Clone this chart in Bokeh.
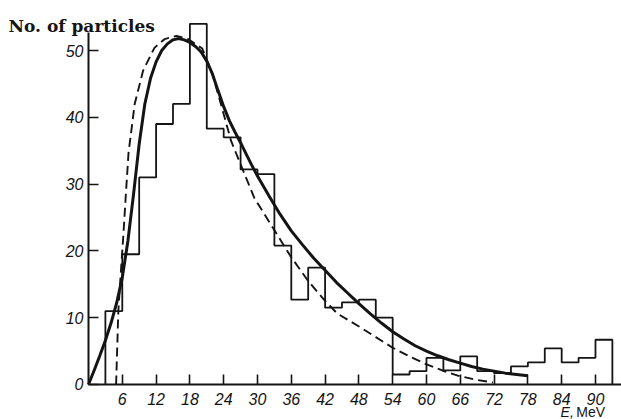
from bokeh.plotting import figure
from bokeh.models import FixedTicker, Label, Range1d
from bokeh.embed import file_html
from bokeh.resources import INLINE

# ---- data ----
bin_edges = [3, 6, 9, 12, 15, 18, 21, 24, 27, 30, 33, 36, 39, 42, 45, 48, 51, 54,
             57, 60, 63, 66, 69, 72, 75, 78, 81, 84, 87, 90, 93]
counts = [11, 19.5, 31, 39, 42, 54, 38.3, 37, 32.2, 31.5, 20.8, 12.7, 17.5, 11.5,
          12.3, 12.7, 10, 1.5, 2, 4, 2.1, 4.2, 2, 1.7, 2.7, 3.3, 5.4, 3.3, 4, 6.7]

solid_E = [0, 1, 2, 3, 4, 5, 6, 7, 8, 9, 10, 11, 12, 13, 14, 15, 16, 17, 18, 19, 20,
           21, 22, 23, 24, 25, 26, 27, 28, 29, 30, 32, 34, 36, 38, 40, 42, 44, 46, 48,
           50, 52, 54, 56, 58, 60, 62, 64, 66, 68, 70, 72, 74, 76, 78]
solid_N = [0, 2.1, 4.3, 6.6, 9.2, 12.2, 16, 21.5, 28.5, 36, 42, 45.8, 48.3, 50, 51,
           51.6, 51.8, 51.6, 51.2, 50.6, 49.8, 48.4, 46.5, 44, 41.6, 39.5, 37.8, 36.2,
           34.5, 32.8, 31.2, 28.3, 25.5, 23, 20.9, 18.9, 17.1, 15.3, 13.7, 12.1, 10.6,
           9.2, 7.9, 6.8, 5.8, 5, 4.3, 3.7, 3.2, 2.7, 2.3, 2, 1.7, 1.5, 1.3]

dashed_E = [4.9, 5.3, 5.8, 6.2, 6.6, 7.1, 8.2, 9.7, 11.7, 13.5, 15.6, 17.5, 20.2, 22,
            23.5, 25.3, 26.5, 29.4, 32.7, 35.8, 38.9, 41.8, 44.2, 47.8, 51, 54, 57,
            59.8, 62.8, 65.7, 68.8, 71.8]
dashed_N = [0, 11, 17.5, 22.5, 28, 34.6, 42, 47, 50.4, 51.7, 52.2, 51.8, 50.3, 46.5,
            42, 36.5, 34, 28, 23.5, 19.3, 15.6, 12.7, 10.6, 8.8, 7.1, 5.5, 4.2, 3.1,
            2.1, 1.3, 0.7, 0.3]

x_ticks = [6, 12, 18, 24, 30, 36, 42, 48, 54, 60, 66, 72, 78, 84, 90]
y_ticks = [0, 10, 20, 30, 40, 50]

INK = "#141414"

p = figure(width=621, height=419, output_backend="svg", toolbar_location=None,
           x_range=Range1d(-15.62, 94.62), y_range=Range1d(-5.24, 57.49),
           min_border_left=0, min_border_right=0, min_border_top=0,
           min_border_bottom=0)
p.outline_line_color = None
p.xgrid.visible = False
p.ygrid.visible = False
p.background_fill_color = "white"
p.border_fill_color = "white"

# histogram outline (step path built from the bins)
hx, hy = [bin_edges[0]], [0]
for i, c in enumerate(counts):
    hx += [bin_edges[i], bin_edges[i + 1]]
    hy += [c, c]
hx.append(bin_edges[-1])
hy.append(0)
p.line(hx, hy, line_color=INK, line_width=1.8)

p.line(dashed_E, dashed_N, line_color=INK, line_width=1.9, line_dash="9 5")
p.line(solid_E, solid_N, line_color=INK, line_width=3)

for ax in (p.xaxis, p.yaxis):
    ax.fixed_location = 0
    ax.axis_line_color = INK
    ax.axis_line_width = 2
    ax.major_tick_line_color = INK
    ax.major_tick_line_width = 1.6
    ax.major_tick_in = 10
    ax.major_tick_out = 0
    ax.minor_tick_line_color = None
    ax.major_label_text_font = "Liberation Sans"
    ax.major_label_text_font_style = "italic"
    ax.major_label_text_font_size = "16px"
    ax.major_label_text_color = INK

p.xaxis.ticker = FixedTicker(ticks=x_ticks)
p.yaxis.ticker = FixedTicker(ticks=y_ticks)
p.xaxis.bounds = (0, 94.62)
p.yaxis.bounds = (0, 52.7)
p.xaxis.major_label_standoff = 9
p.yaxis.major_label_standoff = 5

p.add_layout(Label(x=-14.2, y=53.7, text="No. of particles", text_font="DejaVu Serif",
                   text_font_style="bold", text_font_size="17px", text_color=INK,
                   text_baseline="alphabetic", text_align="left"))
p.add_layout(Label(x=83.8, y=-4.1, text="E,", text_font="Liberation Sans",
                   text_font_style="italic", text_font_size="14px", text_color=INK,
                   text_baseline="alphabetic", text_align="left"))
p.add_layout(Label(x=86.6, y=-4.1, text="MeV", text_font="Liberation Sans",
                   text_font_size="14px", text_color=INK,
                   text_baseline="alphabetic", text_align="left"))

open("out.html", "w").write(file_html(p, INLINE))
